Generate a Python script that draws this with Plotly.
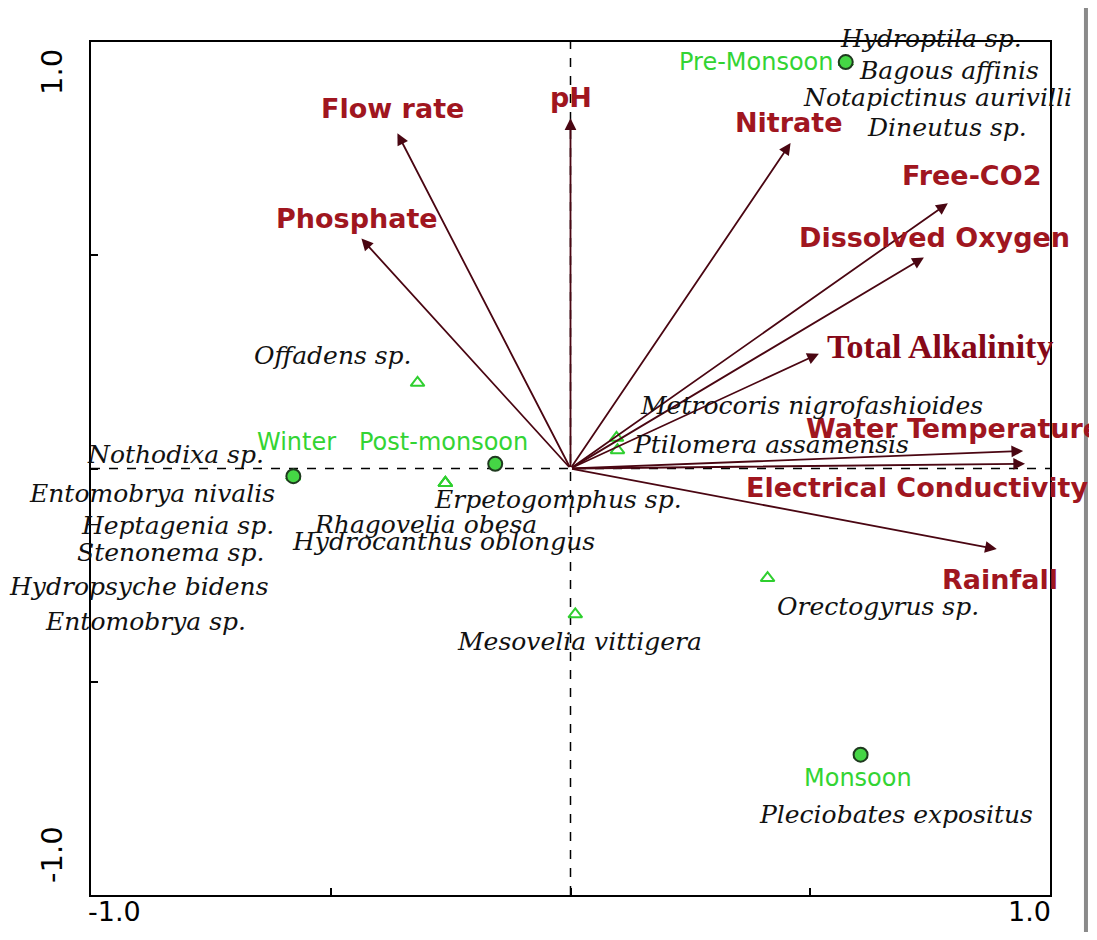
import plotly.graph_objects as go

# ---------------- data ----------------
env_names = ["Flow rate", "pH", "Nitrate", "Free-CO2", "Dissolved Oxygen",
             "Total Alkalinity", "Water Temperature", "Electrical Conductivity",
             "Rainfall", "Phosphate"]
env_x = [-0.361, 0.000, 0.459, 0.787, 0.737, 0.518, 0.944, 0.948, 0.889, -0.436]
env_y = [0.786, 0.821, 0.763, 0.622, 0.495, 0.269, 0.041, 0.011, -0.189, 0.539]

site_names = ["Pre-Monsoon", "Winter", "Post-monsoon", "Monsoon"]
site_x = [0.574, -0.578, -0.157, 0.605]
site_y = [0.953, -0.018, 0.011, -0.671]

species_names = ["Hydroptila sp.", "Bagous affinis", "Notapictinus aurivilli", "Dineutus sp.",
                 "Nothodixa sp.", "Entomobrya nivalis", "Heptagenia sp.", "Stenonema sp.",
                 "Hydropsyche bidens", "Entomobrya sp.",
                 "Erpetogomphus sp.", "Rhagovelia obesa", "Hydrocanthus oblongus",
                 "Offadens sp.", "Metrocoris nigrofashioides", "Ptilomera assamensis",
                 "Mesovelia vittigera", "Orectogyrus sp.", "Pleciobates expositus"]
species_x = [0.574, 0.574, 0.574, 0.574,
             -0.578, -0.578, -0.578, -0.578, -0.578, -0.578,
             -0.261, -0.261, -0.261,
             -0.319, 0.096, 0.098,
             0.010, 0.411, 0.605]
species_y = [0.953, 0.953, 0.953, 0.953,
             -0.018, -0.018, -0.018, -0.018, -0.018, -0.018,
             -0.034, -0.034, -0.034,
             0.201, 0.072, 0.043,
             -0.342, -0.257, -0.671]

tick_vals = [-1.0, -0.5, 0.0, 0.5, 1.0]
tick_labels = ["-1.0", "1.0"]

# ---------------- styles (pixel offsets for labels) ----------------
env_label_style = {
    "Flow rate": dict(xshift=-5, yshift=25, xanchor="center"),
    "pH": dict(xshift=0, yshift=21, xanchor="center"),
    "Nitrate": dict(xshift=-2, yshift=21, xanchor="center"),
    "Free-CO2": dict(xshift=24, yshift=28, xanchor="center"),
    "Dissolved Oxygen": dict(xshift=11, yshift=20, xanchor="center"),
    "Total Alkalinity": dict(xshift=6, yshift=7, xanchor="left"),
    "Water Temperature": dict(xshift=-219, yshift=23, xanchor="left"),
    "Electrical Conductivity": dict(xshift=-281, yshift=-24, xanchor="left"),
    "Rainfall": dict(xshift=3, yshift=-30, xanchor="center"),
    "Phosphate": dict(xshift=-4, yshift=20, xanchor="center"),
}
site_label_style = {
    "Pre-Monsoon": dict(xshift=-10, yshift=0, xanchor="right"),
    "Winter": dict(xshift=3, yshift=34, xanchor="center"),
    "Post-monsoon": dict(xshift=-52, yshift=22, xanchor="center"),
    "Monsoon": dict(xshift=-3, yshift=-23, xanchor="center"),
}
species_label_style = {
    "Hydroptila sp.": (85, 24), "Bagous affinis": (103, -8),
    "Notapictinus aurivilli": (92, -35), "Dineutus sp.": (101, -65),
    "Nothodixa sp.": (-118, 22), "Entomobrya nivalis": (-141, -17),
    "Heptagenia sp.": (-116, -49), "Stenonema sp.": (-123, -76),
    "Hydropsyche bidens": (-155, -110), "Entomobrya sp.": (-148, -145),
    "Erpetogomphus sp.": (113, -16), "Rhagovelia obesa": (-20, -41),
    "Hydrocanthus oblongus": (-2, -58), "Offadens sp.": (-85, 27),
    "Metrocoris nigrofashioides": (195, 32), "Ptilomera assamensis": (154, 6),
    "Mesovelia vittigera": (4, -27), "Orectogyrus sp.": (110, -28),
    "Pleciobates expositus": (35, -60),
}

RED = "#a0161f"
DARK_RED = "#860818"
ARROW = "#4a0612"
GREEN = "#33d433"

fig = go.Figure()

# species triangles
fig.add_trace(go.Scatter(
    x=species_x, y=species_y, mode="markers",
    marker=dict(symbol="triangle-up-open", size=12, color="#2fcf2f", line=dict(width=2)),
    hoverinfo="text", text=species_names, showlegend=False))

# site circles
fig.add_trace(go.Scatter(
    x=site_x, y=site_y, mode="markers",
    marker=dict(symbol="circle", size=14, color="#45d645", line=dict(color="#1f3a1f", width=2)),
    hoverinfo="text", text=site_names, showlegend=False))

annotations = []

# environmental arrows
for name, ex, ey in zip(env_names, env_x, env_y):
    annotations.append(dict(
        x=ex, y=ey, ax=0, ay=0, xref="x", yref="y", axref="x", ayref="y",
        text="", showarrow=True, arrowhead=2, arrowsize=1.3, arrowwidth=1.8,
        arrowcolor=ARROW, standoff=0, startstandoff=0))
    st = env_label_style[name]
    if name == "Total Alkalinity":
        font = dict(family="Liberation Serif", size=34, color=DARK_RED, weight="bold")
    else:
        font = dict(family="DejaVu Sans", size=27, color=RED, weight="bold")
    annotations.append(dict(
        x=ex, y=ey, xref="x", yref="y", text=name, showarrow=False,
        xanchor=st["xanchor"], yanchor="middle",
        xshift=st["xshift"], yshift=st["yshift"], font=font))

# site labels
for name, sx, sy in zip(site_names, site_x, site_y):
    st = site_label_style[name]
    annotations.append(dict(
        x=sx, y=sy, xref="x", yref="y", text=name, showarrow=False,
        xanchor=st["xanchor"], yanchor="middle",
        xshift=st["xshift"], yshift=st["yshift"],
        font=dict(family="DejaVu Sans", size=24, color=GREEN)))

# species labels
for name, sx, sy in zip(species_names, species_x, species_y):
    dx, dy = species_label_style[name]
    annotations.append(dict(
        x=sx, y=sy, xref="x", yref="y", text="<i>" + name + "</i>", showarrow=False,
        xanchor="center", yanchor="middle", xshift=dx, yshift=dy,
        font=dict(family="DejaVu Serif", size=25, color="#111111")))

# tick labels (placed like the original: flush with the plot edges)
tick_font = dict(family="DejaVu Sans", size=29, color="black")
xtick_font = dict(family="DejaVu Sans", size=27, color="black")
annotations += [
    dict(x=tick_vals[0], y=0, xref="x", yref="paper", text=tick_labels[0], showarrow=False,
         xanchor="left", yanchor="top", yshift=0, xshift=-4, borderpad=0, font=xtick_font),
    dict(x=tick_vals[-1], y=0, xref="x", yref="paper", text=tick_labels[1], showarrow=False,
         xanchor="right", yanchor="top", yshift=0, xshift=2, borderpad=0, font=xtick_font),
    dict(x=0, y=tick_vals[-1], xref="paper", yref="y", text=tick_labels[1], showarrow=False,
         textangle=-90, xanchor="center", yanchor="middle", xshift=-39, yshift=-30,
         font=tick_font),
    dict(x=0, y=tick_vals[0], xref="paper", yref="y", text=tick_labels[0], showarrow=False,
         textangle=-90, xanchor="center", yanchor="middle", xshift=-39, yshift=40,
         font=tick_font),
]

shapes = [
    dict(type="line", xref="x", yref="y", x0=0, x1=0, y0=tick_vals[0], y1=tick_vals[-1],
         line=dict(color="black", width=1.5, dash="dash"), layer="below"),
    dict(type="line", xref="x", yref="y", x0=tick_vals[0], x1=tick_vals[-1], y0=0, y1=0,
         line=dict(color="black", width=1.5, dash="dash"), layer="below"),
    dict(type="line", xref="paper", yref="paper", x0=1.0375, x1=1.0375, y0=-0.06, y1=1.06,
         line=dict(color="#8a8a8a", width=4)),
]

axis_common = dict(range=[-1, 1], tickvals=tick_vals, showticklabels=False,
                   ticks="inside", ticklen=7, tickwidth=2, tickcolor="black",
                   showline=True, linecolor="black", linewidth=2, mirror=True,
                   showgrid=False, zeroline=False)

# page body has an 8px margin: figure is sized/offset to compensate
fig.update_layout(
    width=1081, height=924,
    margin=dict(l=83, r=39, t=34, b=37),
    paper_bgcolor="white", plot_bgcolor="white",
    xaxis=axis_common, yaxis=axis_common,
    annotations=annotations, shapes=shapes,
    showlegend=False,
)

fig.write_html("out.html")
